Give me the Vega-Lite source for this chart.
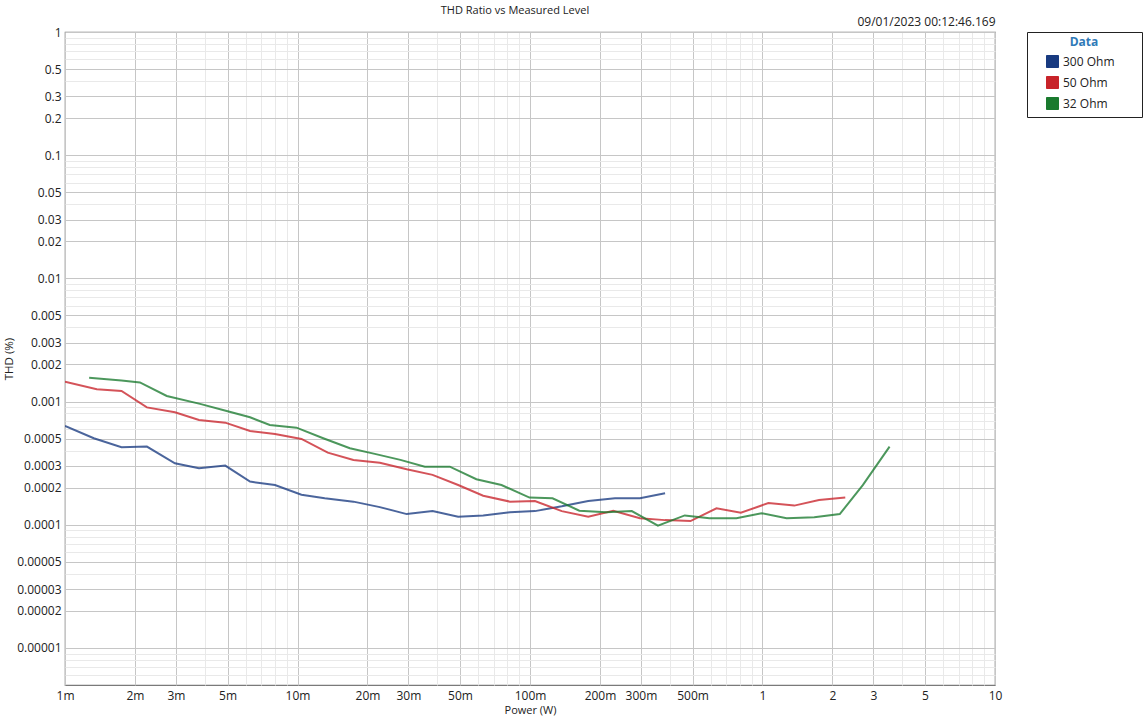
{
  "$schema": "https://vega.github.io/schema/vega-lite/v6.json",
  "width": 930,
  "height": 653,
  "autosize": {"type": "none"},
  "padding": {"left": 65, "top": 32, "right": 151, "bottom": 32},
  "background": "white",
  "config": {
    "font": "Open Sans",
    "view": {"stroke": "#7a7a7a", "strokeWidth": 1.2},
    "axis": {"labelFont": "Open Sans", "titleFont": "Open Sans"}
  },
  "title": {
    "text": "THD Ratio vs Measured Level",
    "fontSize": 11,
    "fontWeight": "normal",
    "color": "#222",
    "anchor": "middle",
    "dx": -15,
    "offset": -1
  },
  "data": {
    "values": [
      {"series": "300 Ohm", "power": 0.001, "thd": 0.000634},
      {"series": "300 Ohm", "power": 0.00133, "thd": 0.000504},
      {"series": "300 Ohm", "power": 0.00175, "thd": 0.000426},
      {"series": "300 Ohm", "power": 0.00225, "thd": 0.000431},
      {"series": "300 Ohm", "power": 0.00297, "thd": 0.000315},
      {"series": "300 Ohm", "power": 0.00377, "thd": 0.000287},
      {"series": "300 Ohm", "power": 0.00489, "thd": 0.000302},
      {"series": "300 Ohm", "power": 0.00625, "thd": 0.000224},
      {"series": "300 Ohm", "power": 0.0080, "thd": 0.000210},
      {"series": "300 Ohm", "power": 0.0104, "thd": 0.000175},
      {"series": "300 Ohm", "power": 0.0131, "thd": 0.000164},
      {"series": "300 Ohm", "power": 0.0174, "thd": 0.000154},
      {"series": "300 Ohm", "power": 0.0226, "thd": 0.000139},
      {"series": "300 Ohm", "power": 0.0295, "thd": 0.000122},
      {"series": "300 Ohm", "power": 0.0381, "thd": 0.000129},
      {"series": "300 Ohm", "power": 0.0491, "thd": 0.000116},
      {"series": "300 Ohm", "power": 0.0629, "thd": 0.000119},
      {"series": "300 Ohm", "power": 0.082, "thd": 0.000126},
      {"series": "300 Ohm", "power": 0.105, "thd": 0.000129},
      {"series": "300 Ohm", "power": 0.137, "thd": 0.000141},
      {"series": "300 Ohm", "power": 0.178, "thd": 0.000156},
      {"series": "300 Ohm", "power": 0.232, "thd": 0.000164},
      {"series": "300 Ohm", "power": 0.297, "thd": 0.000164},
      {"series": "300 Ohm", "power": 0.381, "thd": 0.000180},

      {"series": "50 Ohm", "power": 0.001, "thd": 0.00145},
      {"series": "50 Ohm", "power": 0.00137, "thd": 0.00126},
      {"series": "50 Ohm", "power": 0.00175, "thd": 0.00122},
      {"series": "50 Ohm", "power": 0.00225, "thd": 0.000897},
      {"series": "50 Ohm", "power": 0.00297, "thd": 0.000818},
      {"series": "50 Ohm", "power": 0.00377, "thd": 0.000709},
      {"series": "50 Ohm", "power": 0.00489, "thd": 0.000674},
      {"series": "50 Ohm", "power": 0.00625, "thd": 0.000577},
      {"series": "50 Ohm", "power": 0.0080, "thd": 0.000546},
      {"series": "50 Ohm", "power": 0.0104, "thd": 0.000497},
      {"series": "50 Ohm", "power": 0.0135, "thd": 0.000385},
      {"series": "50 Ohm", "power": 0.0174, "thd": 0.000336},
      {"series": "50 Ohm", "power": 0.0226, "thd": 0.000319},
      {"series": "50 Ohm", "power": 0.0295, "thd": 0.000282},
      {"series": "50 Ohm", "power": 0.0381, "thd": 0.000254},
      {"series": "50 Ohm", "power": 0.0491, "thd": 0.000210},
      {"series": "50 Ohm", "power": 0.0629, "thd": 0.000172},
      {"series": "50 Ohm", "power": 0.082, "thd": 0.000154},
      {"series": "50 Ohm", "power": 0.105, "thd": 0.000156},
      {"series": "50 Ohm", "power": 0.137, "thd": 0.000129},
      {"series": "50 Ohm", "power": 0.178, "thd": 0.000116},
      {"series": "50 Ohm", "power": 0.228, "thd": 0.000130},
      {"series": "50 Ohm", "power": 0.297, "thd": 0.000113},
      {"series": "50 Ohm", "power": 0.381, "thd": 0.000109},
      {"series": "50 Ohm", "power": 0.490, "thd": 0.000107},
      {"series": "50 Ohm", "power": 0.634, "thd": 0.000136},
      {"series": "50 Ohm", "power": 0.807, "thd": 0.000125},
      {"series": "50 Ohm", "power": 1.06, "thd": 0.000150},
      {"series": "50 Ohm", "power": 1.37, "thd": 0.000143},
      {"series": "50 Ohm", "power": 1.75, "thd": 0.000159},
      {"series": "50 Ohm", "power": 2.27, "thd": 0.000166},

      {"series": "32 Ohm", "power": 0.00127, "thd": 0.00156},
      {"series": "32 Ohm", "power": 0.00175, "thd": 0.00148},
      {"series": "32 Ohm", "power": 0.0021, "thd": 0.00143},
      {"series": "32 Ohm", "power": 0.00274, "thd": 0.00111},
      {"series": "32 Ohm", "power": 0.00381, "thd": 0.000957},
      {"series": "32 Ohm", "power": 0.00496, "thd": 0.000839},
      {"series": "32 Ohm", "power": 0.00625, "thd": 0.000745},
      {"series": "32 Ohm", "power": 0.0076, "thd": 0.000645},
      {"series": "32 Ohm", "power": 0.0099, "thd": 0.000614},
      {"series": "32 Ohm", "power": 0.0129, "thd": 0.000504},
      {"series": "32 Ohm", "power": 0.0168, "thd": 0.000418},
      {"series": "32 Ohm", "power": 0.0215, "thd": 0.000376},
      {"series": "32 Ohm", "power": 0.0277, "thd": 0.000336},
      {"series": "32 Ohm", "power": 0.0353, "thd": 0.000296},
      {"series": "32 Ohm", "power": 0.0452, "thd": 0.000296},
      {"series": "32 Ohm", "power": 0.0588, "thd": 0.000234},
      {"series": "32 Ohm", "power": 0.0754, "thd": 0.000210},
      {"series": "32 Ohm", "power": 0.0995, "thd": 0.000166},
      {"series": "32 Ohm", "power": 0.125, "thd": 0.000164},
      {"series": "32 Ohm", "power": 0.163, "thd": 0.000130},
      {"series": "32 Ohm", "power": 0.213, "thd": 0.000126},
      {"series": "32 Ohm", "power": 0.274, "thd": 0.000129},
      {"series": "32 Ohm", "power": 0.355, "thd": 0.0000984},
      {"series": "32 Ohm", "power": 0.463, "thd": 0.000119},
      {"series": "32 Ohm", "power": 0.591, "thd": 0.000113},
      {"series": "32 Ohm", "power": 0.772, "thd": 0.000113},
      {"series": "32 Ohm", "power": 0.990, "thd": 0.000124},
      {"series": "32 Ohm", "power": 1.27, "thd": 0.000113},
      {"series": "32 Ohm", "power": 1.67, "thd": 0.000115},
      {"series": "32 Ohm", "power": 2.15, "thd": 0.000122},
      {"series": "32 Ohm", "power": 2.70, "thd": 0.000210},
      {"series": "32 Ohm", "power": 3.52, "thd": 0.000431}
    ]
  },
  "resolve": {"axis": {"x": "independent", "y": "independent"}},
  "layer": [
    {
      "mark": {"type": "line", "strokeWidth": 2, "strokeOpacity": 0.78, "clip": true},
      "encoding": {
        "x": {
          "field": "power",
          "type": "quantitative",
          "scale": {"type": "log", "domain": [0.001, 10], "nice": false},
          "axis": {
            "orient": "bottom",
            "title": "Power (W)",
            "titleFontSize": 11,
            "titleFontWeight": "normal",
            "titleColor": "#222",
            "titlePadding": 3,
            "values": [0.001,0.002,0.003,0.004,0.005,0.006,0.007,0.008,0.009,0.01,0.02,0.03,0.04,0.05,0.06,0.07,0.08,0.09,0.1,0.2,0.3,0.4,0.5,0.6,0.7,0.8,0.9,1,2,3,4,5,6,7,8,9,10],
            "labelExpr": "indexof([1,2,3,5], round(datum.value / pow(10, floor(log(datum.value)/LN10 + 1e-9)))) >= 0 ? (datum.value < 0.999 ? round(datum.value*1000) + 'm' : '' + round(datum.value)) : ''",
            "labelFontSize": 12,
            "labelColor": "#222",
            "labelPadding": 5,
            "labelFlush": false,
            "labelOverlap": false,
            "ticks": false,
            "domain": false,
            "grid": true,
            "gridWidth": 1,
            "gridColor": {"condition": {"test": "indexof([1,2,3,5], round(datum.value / pow(10, floor(log(datum.value)/LN10 + 1e-9)))) >= 0", "value": "#c6c6c6"}, "value": "#e9e9e9"}
          }
        },
        "y": {
          "field": "thd",
          "type": "quantitative",
          "scale": {"type": "log", "domain": [0.000005, 1], "nice": false},
          "axis": {
            "orient": "left",
            "title": "THD (%)",
            "titleFontSize": 11.5,
            "titleFontWeight": "normal",
            "titleColor": "#222",
            "titlePadding": 2,
            "values": [0.000006,0.000007,0.000008,0.000009,0.00001,0.00002,0.00003,0.00004,0.00005,0.00006,0.00007,0.00008,0.00009,0.0001,0.0002,0.0003,0.0004,0.0005,0.0006,0.0007,0.0008,0.0009,0.001,0.002,0.003,0.004,0.005,0.006,0.007,0.008,0.009,0.01,0.02,0.03,0.04,0.05,0.06,0.07,0.08,0.09,0.1,0.2,0.3,0.4,0.5,0.6,0.7,0.8,0.9,1],
            "labelExpr": "(datum.value > 0.0000095 && indexof([1,2,3,5], round(datum.value / pow(10, floor(log(datum.value)/LN10 + 1e-9)))) >= 0) ? '' + datum.value : ''",
            "labelFontSize": 12,
            "labelColor": "#222",
            "labelPadding": 4,
            "labelFlush": false,
            "labelOverlap": false,
            "ticks": false,
            "domain": false,
            "grid": true,
            "gridWidth": 1,
            "gridColor": {"condition": {"test": "indexof([1,2,3,5], round(datum.value / pow(10, floor(log(datum.value)/LN10 + 1e-9)))) >= 0", "value": "#c6c6c6"}, "value": "#e9e9e9"}
          }
        },
        "color": {
          "field": "series",
          "type": "nominal",
          "scale": {"domain": ["300 Ohm", "50 Ohm", "32 Ohm"], "range": ["#183a80", "#c8232a", "#1a7a2e"]},
          "legend": {
            "orient": "none",
            "legendX": 962,
            "legendY": 0,
            "title": "Data",
            "titleFontSize": 12,
            "titleFontWeight": "bold",
            "titleColor": "#2f7ab8",
            "titleAnchor": "middle",
            "titlePadding": 6,
            "labelFontSize": 12,
            "labelColor": "#222",
            "labelExpr": "datum.label + '\u00a0\u00a0\u00a0\u00a0\u00a0\u00a0\u00a0\u200b'",
            "labelOffset": 4,
            "symbolType": "square",
            "symbolSize": 144,
            "symbolOffset": 14,
            "rowPadding": 4,
            "padding": 5,
            "fillColor": "white",
            "strokeColor": "#222",
            "cornerRadius": 0,
            "encode": {
              "symbols": {
                "update": {
                  "fill": {"scale": "color", "field": "value"},
                  "fillOpacity": {"value": 1},
                  "stroke": {"value": "#555"},
                  "strokeWidth": {"value": 1},
                  "shape": {"value": "square"}
                }
              }
            }
          }
        }
      }
    },
    {
      "mark": {"type": "line", "opacity": 0},
      "encoding": {
        "x": {
          "field": "power",
          "type": "quantitative",
          "axis": {
            "orient": "top",
            "title": "09/01/2023 00:12:46.169",
            "titleAnchor": "end",
            "titleAlign": "right",
            "titleFontSize": 12,
            "titleFontWeight": "normal",
            "titleColor": "#222",
            "titlePadding": 4,
            "labels": false,
            "ticks": false,
            "domain": false,
            "grid": false
          }
        },
        "y": {"field": "thd", "type": "quantitative", "axis": null}
      }
    }
  ]
}
